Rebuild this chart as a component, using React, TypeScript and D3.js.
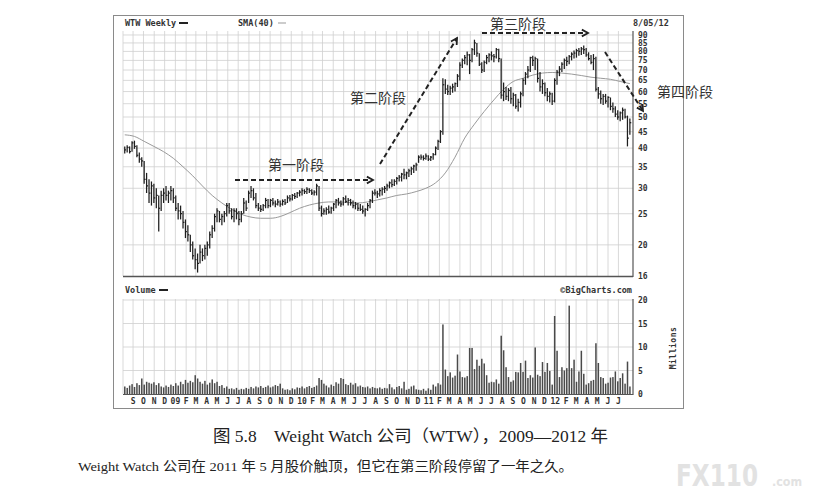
import React from "react";
import * as d3 from "d3";

// Weekly bars, first week ending 2008-08-08
const lows = [
  38.5, 38.8, 38.5, 39.0, 39.8, 37.5, 36.0, 35.0, 31.0, 29.0,
  27.0, 26.5, 27.0, 26.0, 22.0, 25.5, 27.0, 27.5, 27.0, 27.5,
  27.0, 25.5, 24.0, 24.0, 22.5, 21.0, 20.5, 19.0, 18.0, 16.8,
  16.4, 17.5, 17.8, 18.0, 18.5, 19.5, 21.0, 22.0, 23.5, 23.5,
  23.0, 23.5, 24.5, 25.0, 24.0, 23.5, 24.0, 23.0, 23.5, 25.0,
  25.5, 27.0, 28.0, 27.5, 26.0, 25.5, 25.3, 25.5, 26.0, 26.0,
  26.2, 26.5, 26.2, 26.5, 26.3, 26.5, 26.6, 27.0, 27.3, 27.5,
  27.8, 28.0, 28.3, 28.5, 28.8, 28.8, 29.0, 28.6, 28.5, 28.5,
  25.5, 24.5, 24.8, 24.8, 25.0, 25.0, 25.5, 26.0, 26.5, 26.3,
  26.5, 27.0, 26.5, 26.5, 26.0, 25.8, 25.5, 25.5, 25.0, 24.5,
  25.5, 26.0, 27.0, 28.5, 28.0, 28.3, 28.5, 29.0, 29.5, 30.0,
  30.2, 30.5, 30.8, 31.5, 31.5, 32.0, 32.0, 32.5, 33.0, 33.5,
  34.0, 36.0, 36.8, 36.6, 36.8, 36.5, 36.5, 36.8, 38.0, 39.5,
  41.5, 44.0, 59.0, 58.5, 58.5, 59.5, 60.0, 62.0, 65.0, 71.0,
  73.0, 72.5, 68.0, 74.0, 78.0, 77.0, 72.0, 68.5, 69.0, 73.0,
  74.0, 75.0, 74.0, 76.0, 74.0, 57.0, 56.0, 56.5, 56.0, 55.0,
  54.0, 53.0, 52.0, 53.5, 58.0, 63.0, 66.0, 69.0, 72.0, 70.0,
  64.0, 60.0, 59.0, 58.0, 56.0, 55.5, 54.5, 55.5, 63.0, 67.0,
  69.0, 70.5, 72.0, 73.0, 75.0, 76.0, 76.5, 77.5, 78.0, 78.5,
  77.0, 75.0, 73.0, 70.0, 60.0, 57.0, 55.0, 54.5, 55.0, 53.5,
  52.5, 51.5, 50.0, 49.0, 48.5, 49.0, 49.5, 40.5, 44.0,
];
const highs = [
  40.5, 40.8, 40.5, 42.0, 42.2, 40.8, 38.8, 37.5, 36.5, 33.5,
  32.0, 31.5, 31.0, 30.0, 28.5, 29.5, 30.0, 30.5, 29.5, 30.5,
  30.0, 28.5, 27.0, 26.5, 25.5, 24.0, 23.0, 21.5, 20.5, 19.5,
  18.8, 20.0, 19.5, 20.0, 20.5, 22.0, 23.0, 25.0, 26.0, 25.5,
  25.0, 25.5, 27.0, 27.0, 26.0, 26.0, 26.0, 25.5, 25.5, 28.0,
  27.5, 29.5, 30.5, 30.0, 29.0, 27.0, 26.6, 26.8, 28.0, 27.8,
  27.8, 28.0, 27.5, 27.8, 27.5, 27.7, 27.8, 28.5, 28.6, 28.8,
  29.0, 29.2, 29.6, 30.0, 29.8, 30.2, 30.0, 29.8, 29.6, 31.0,
  30.5, 26.5, 26.0, 26.2, 26.5, 26.3, 27.0, 27.8, 28.0, 27.5,
  28.2, 28.5, 28.0, 27.8, 27.5, 27.2, 27.0, 26.8, 26.5, 26.0,
  27.0, 27.8, 29.5, 29.8, 29.5, 30.0, 30.2, 30.5, 31.0, 31.5,
  32.0, 32.0, 32.5, 33.0, 33.5, 34.5, 33.8, 34.5, 35.0, 35.5,
  36.0, 38.0, 38.2, 38.0, 38.5, 38.0, 37.8, 38.6, 40.5, 42.5,
  45.5, 66.0, 65.5, 63.0, 62.5, 63.5, 64.0, 68.0, 74.0, 76.0,
  78.0, 80.0, 78.5, 82.0, 87.0, 85.0, 79.0, 74.0, 75.0, 78.0,
  79.0, 80.0, 78.5, 82.0, 81.5, 76.0, 64.0, 62.0, 61.5, 62.0,
  59.5, 59.0, 57.0, 60.0, 66.0, 69.0, 72.0, 77.0, 77.5, 77.0,
  76.0, 69.0, 65.5, 64.0, 61.5, 60.0, 59.5, 66.0, 70.0, 72.0,
  74.0, 76.0, 77.0, 78.0, 79.5, 80.5, 81.5, 82.0, 82.5, 83.5,
  82.0, 79.5, 78.0, 78.5, 77.0, 62.0, 60.5, 59.0, 59.0, 58.0,
  57.5, 55.5, 54.0, 52.5, 52.0, 53.5, 53.0, 50.5, 49.5,
];
const closes = [
  39.5, 40.2, 39.0, 41.5, 40.5, 38.0, 37.0, 36.5, 32.0, 30.5,
  29.0, 30.5, 28.0, 28.5, 26.0, 28.5, 29.0, 28.5, 29.0, 29.5,
  28.0, 26.0, 25.5, 25.0, 23.5, 22.0, 21.5, 20.0, 18.5, 18.0,
  17.5, 19.0, 18.5, 19.5, 20.0, 21.5, 22.5, 24.5, 25.5, 24.0,
  24.5, 25.0, 26.5, 25.5, 24.5, 25.5, 25.0, 24.0, 25.0, 27.0,
  26.0, 29.0, 29.5, 28.0, 26.5, 26.0, 25.8, 26.5, 27.5, 26.5,
  27.5, 27.0, 26.8, 27.2, 26.8, 27.3, 27.0, 28.0, 27.8, 28.5,
  28.3, 29.0, 29.2, 29.5, 29.3, 29.8, 29.5, 29.0, 29.2, 30.5,
  26.0, 25.0, 25.5, 25.8, 25.3, 26.0, 26.8, 27.5, 27.0, 26.8,
  27.8, 27.3, 27.5, 27.0, 26.5, 26.8, 26.0, 25.8, 25.5, 25.8,
  26.5, 27.5, 29.0, 29.0, 28.8, 29.5, 29.8, 30.0, 30.5, 31.2,
  30.8, 31.5, 32.2, 32.5, 33.2, 33.0, 33.5, 34.0, 34.5, 35.2,
  35.5, 37.5, 37.5, 37.2, 37.8, 37.0, 37.5, 38.2, 40.0, 42.0,
  45.0, 63.0, 61.0, 60.0, 61.5, 62.0, 63.5, 67.0, 72.5, 75.0,
  76.5, 78.0, 75.0, 81.0, 85.0, 79.0, 73.0, 70.0, 74.0, 76.5,
  78.0, 77.5, 77.0, 81.0, 76.0, 58.5, 60.0, 58.0, 60.5, 57.0,
  58.5, 54.0, 55.5, 59.0, 65.0, 68.0, 70.0, 76.5, 75.0, 76.0,
  66.0, 62.0, 63.5, 59.5, 58.0, 59.0, 56.0, 65.0, 69.0, 70.5,
  73.0, 75.0, 74.5, 77.0, 78.5, 79.0, 80.5, 80.0, 81.5, 81.0,
  78.0, 76.0, 74.0, 76.0, 61.0, 59.0, 57.0, 58.0, 56.0, 57.5,
  54.0, 53.0, 51.0, 50.0, 51.5, 52.5, 50.0, 43.0, 48.0,
];
// Weekly volume, millions
const volumes = [
  1.6, 1.3, 1.8, 2.1, 1.5, 2.3, 1.9, 3.3, 2.0, 2.6,
  2.4, 2.2, 2.5, 1.9, 2.3, 1.6, 1.4, 1.8, 1.5, 2.0,
  1.7, 2.3, 1.8, 2.6, 2.1, 3.0, 2.4, 2.8, 2.5, 4.0,
  3.3, 2.6, 2.2, 2.8, 2.0, 2.4, 3.1, 2.3, 2.6, 1.7,
  1.9, 1.3, 1.6, 1.1, 1.2, 1.0, 1.3, 0.9, 1.1, 1.0,
  1.3, 1.1, 1.5, 1.2, 1.6, 1.4, 1.7, 1.3, 1.5, 1.8,
  1.4, 1.6, 1.9, 1.7, 2.2, 1.2, 0.9, 1.0, 0.8, 1.2,
  1.0, 1.4, 1.3, 1.6, 1.2, 1.5, 1.7, 1.3, 1.5, 1.8,
  3.4, 3.0, 2.2, 1.8, 1.4, 2.0, 1.7, 2.5, 2.2, 3.4,
  3.2, 2.1, 1.9, 2.4, 2.0, 2.3, 1.6, 1.8, 1.5, 1.4,
  1.6, 1.2, 1.5, 1.3, 1.2, 1.4, 1.1, 1.3, 1.2, 2.1,
  1.4, 1.0, 1.5, 1.7, 1.2, 2.6, 0.9, 1.1, 1.6, 1.8,
  1.0, 0.9, 0.8, 1.1, 0.7, 1.2, 0.9, 2.0, 1.6, 2.3,
  2.0, 14.8, 5.2, 3.8, 4.6, 3.5, 3.9, 8.4, 4.8, 3.6,
  3.5, 3.8, 9.8, 9.8, 5.3, 7.3, 6.0, 7.5, 6.5, 4.0,
  2.4, 2.6, 2.5, 3.1, 2.2, 12.4, 9.3, 5.7, 3.6, 2.6,
  2.9, 4.7, 4.6, 6.6, 4.7, 7.1, 3.4, 4.0, 3.5, 9.9,
  4.1, 3.8, 6.8, 4.7, 6.6, 4.9, 2.0, 16.6, 9.2, 3.6,
  5.7, 5.0, 5.5, 18.8, 5.5, 7.3, 2.6, 4.8, 9.2, 4.3,
  2.0, 2.3, 2.8, 3.0, 10.8, 6.6, 3.6, 3.4, 2.2, 2.4,
  3.5, 3.6, 4.8, 2.7, 3.4, 4.4, 2.2, 6.9, 1.6,
];
// SMA(40), sampled every 4 weeks
const smaValues = [
  44.0, 43.5, 42.0, 40.5, 39.0, 37.2, 35.0, 32.8, 30.5, 28.5,
  27.0, 25.8, 24.9, 24.4, 24.2, 24.2, 24.5, 25.2, 26.0, 26.6,
  27.0, 27.2, 27.2, 27.1, 27.0, 27.2, 27.6, 28.0, 28.5, 28.8,
  29.3, 30.0, 31.2, 33.5, 37.5, 43.0, 47.5, 52.0, 56.5, 61.0,
  64.5, 66.0, 67.5, 68.5, 68.8, 68.5, 68.0, 67.3, 66.5, 66.0,
  65.5, 64.5, 63.5,
];
const monthLabels = [
  "S", "O", "N", "D",
  "09", "F", "M", "A", "M", "J", "J", "A", "S", "O", "N", "D",
  "10", "F", "M", "A", "M", "J", "J", "A", "S", "O", "N", "D",
  "11", "F", "M", "A", "M", "J", "J", "A", "S", "O", "N", "D",
  "12", "F", "M", "A", "M", "J", "J",
];
const priceTicks = [16, 20, 25, 30, 35, 40, 45, 50, 55, 60, 65, 70, 75, 80, 85, 90];
const volumeTicks = [0, 5, 10, 15, 20];
const stageLabels = ["第一阶段", "第二阶段", "第三阶段", "第四阶段"];
const chartTitle = "WTW Weekly";
const smaTitle = "SMA(40)";
const dateText = "8/05/12";
const caption = "图 5.8　Weight Watch 公司（WTW），2009—2012 年";
const note = "Weight Watch 公司在 2011 年 5 月股价触顶，但它在第三阶段停留了一年之久。";

const firstWeek = new Date(2008, 7, 8);
const weekDates = closes.map((_, i) => d3.timeDay.offset(firstWeek, 7 * i));
const monthStarts = d3.timeMonth.range(new Date(2008, 8, 1), new Date(2012, 7, 1));

const L = 123, R = 633;
const x = d3.scaleTime().domain([new Date(2008, 7, 3), new Date(2012, 7, 12)]).range([L, R]);
const yP = d3.scaleLog().domain([16, 92.6]).range([276, 31]);
const yV = d3.scaleLinear().domain([0, 20]).range([394, 300]);

const mono = "'DejaVu Sans Mono', monospace";
const cjk = "'Noto Sans CJK SC', sans-serif";
const serif = "'Liberation Serif', 'Noto Sans CJK SC', serif";

function Arrow({ x1, y1, x2, y2 }: { x1: number; y1: number; x2: number; y2: number }) {
  const a = Math.atan2(y2 - y1, x2 - x1);
  const h = 7;
  const p1 = [x2 - h * Math.cos(a - 0.5), y2 - h * Math.sin(a - 0.5)];
  const p2 = [x2 - h * Math.cos(a + 0.5), y2 - h * Math.sin(a + 0.5)];
  return (
    <g stroke="#222" fill="none" strokeWidth={2}>
      <line x1={x1} y1={y1} x2={x2} y2={y2} strokeDasharray="5,3" />
      <polyline points={`${p1[0]},${p1[1]} ${x2},${y2} ${p2[0]},${p2[1]}`} strokeWidth={1.8} />
    </g>
  );
}

export default function App() {
  const smaLine = d3
    .line<number>()
    .x((_, k) => x(weekDates[Math.min(k * 4, weekDates.length - 1)]))
    .y((v) => yP(v))
    .curve(d3.curveMonotoneX)(smaValues);

  return (
    <svg width={813} height={500} style={{ position: "absolute", left: 0, top: 0, background: "#fff" }}>
      <rect x={0} y={0} width={813} height={500} fill="#fff" />
      {/* outer frame */}
      <rect x={113.5} y={15.5} width={570} height={393} fill="none" stroke="#8a8a8a" strokeWidth={1} />

      {/* grids */}
      <g stroke="#cfcfcf" strokeWidth={0.8}>
        {monthStarts.map((d, i) => (
          <line key={"pv" + i} x1={x(d)} x2={x(d)} y1={31} y2={276} />
        ))}
        {priceTicks.slice(1).map((t) => (
          <line key={"ph" + t} x1={L} x2={R} y1={yP(t)} y2={yP(t)} />
        ))}
        <line x1={L} x2={L} y1={31} y2={276} />
        {monthStarts.map((d, i) => (
          <line key={"vv" + i} x1={x(d)} x2={x(d)} y1={299} y2={394} />
        ))}
        {volumeTicks.slice(1).map((t) => (
          <line key={"vh" + t} x1={L} x2={R} y1={yV(t)} y2={yV(t)} />
        ))}
        <line x1={L} x2={L} y1={299} y2={394} />
      </g>
      <g stroke="#555" strokeWidth={1.2}>
        <line x1={L} x2={R} y1={276.5} y2={276.5} strokeWidth={1.6} />
        <line x1={R} x2={R} y1={31} y2={277} />
        <line x1={L} x2={R} y1={394.5} y2={394.5} />
        <line x1={R} x2={R} y1={299} y2={395} />
      </g>

      {/* SMA */}
      <path d={smaLine || ""} fill="none" stroke="#9a9a9a" strokeWidth={1} />

      {/* price bars */}
      <g stroke="#1e1e1e" strokeWidth={1.25}>
        {closes.map((c, i) => {
          const xx = x(weekDates[i]);
          return (
            <g key={"b" + i}>
              <line x1={xx} x2={xx} y1={yP(highs[i])} y2={yP(lows[i])} />
              <line x1={xx} x2={xx + 1.4} y1={yP(c)} y2={yP(c)} />
            </g>
          );
        })}
      </g>

      {/* volume bars */}
      <g fill="#4a4a4a">
        {volumes.map((v, i) => (
          <rect key={"v" + i} x={x(weekDates[i]) - 0.7} width={1.5} y={yV(v)} height={yV(0) - yV(v)} />
        ))}
      </g>

      {/* header texts */}
      <g fontFamily={mono} fontSize={8.5} fontWeight="bold" fill="#333">
        <text x={125} y={26}>{chartTitle}</text>
        <line x1={179} x2={188} y1={23} y2={23} stroke="#222" strokeWidth={2} />
        <text x={238} y={26}>{smaTitle}</text>
        <line x1={278} x2={286} y1={23} y2={23} stroke="#999" strokeWidth={1} />
        <text x={633} y={26}>{dateText}</text>
        <text x={125} y={293}>Volume</text>
        <line x1={159} x2={168} y1={290} y2={290} stroke="#222" strokeWidth={2} />
        <text x={632} y={293} textAnchor="end">©BigCharts.com</text>
      </g>

      {/* axes labels */}
      <g fontFamily={mono} fontSize={8} fontWeight="bold" fill="#333">
        {priceTicks.map((t) => (
          <text key={"pt" + t} x={638} y={yP(t) + 3}>{t}</text>
        ))}
        {volumeTicks.map((t) => (
          <text key={"vt" + t} x={638} y={yV(t) + 3}>{t}</text>
        ))}
        {monthStarts.map((d, i) => (
          <text key={"ml" + i} x={x(d)} y={404} textAnchor="middle">{monthLabels[i]}</text>
        ))}
        <text transform="translate(676,348) rotate(-90)" textAnchor="middle" letterSpacing={0.5}>Millions</text>
      </g>

      {/* stage annotations */}
      <Arrow x1={235} y1={180} x2={373} y2={180} />
      <Arrow x1={380} y1={164} x2={457} y2={38} />
      <Arrow x1={482} y1={33} x2={588} y2={33} />
      <Arrow x1={605} y1={52} x2={643} y2={111} />
      <g fontFamily={cjk} fontSize={14} fill="#333">
        <text x={268} y={170}>{stageLabels[0]}</text>
        <text x={350} y={103}>{stageLabels[1]}</text>
        <text x={490} y={29}>{stageLabels[2]}</text>
        <text x={657} y={97}>{stageLabels[3]}</text>
      </g>

      {/* captions */}
      <text x={213} y={442} textLength={395} lengthAdjust="spacingAndGlyphs" fontFamily={serif} fontSize={16.5} fill="#222">{caption}</text>
      <text x={78} y={471} textLength={495} lengthAdjust="spacingAndGlyphs" fontFamily={serif} fontSize={13.5} fill="#222">{note}</text>

      {/* watermark */}
      <g fill="#e2e2e2" fontFamily="'DejaVu Sans Condensed', 'DejaVu Sans', sans-serif" fontWeight="bold">
        <text x={676} y={486} fontSize={30} textLength={82} lengthAdjust="spacingAndGlyphs">FX110</text>
        <text x={772} y={486} fontSize={13} textLength={30} lengthAdjust="spacingAndGlyphs">.com</text>
      </g>
    </svg>
  );
}
